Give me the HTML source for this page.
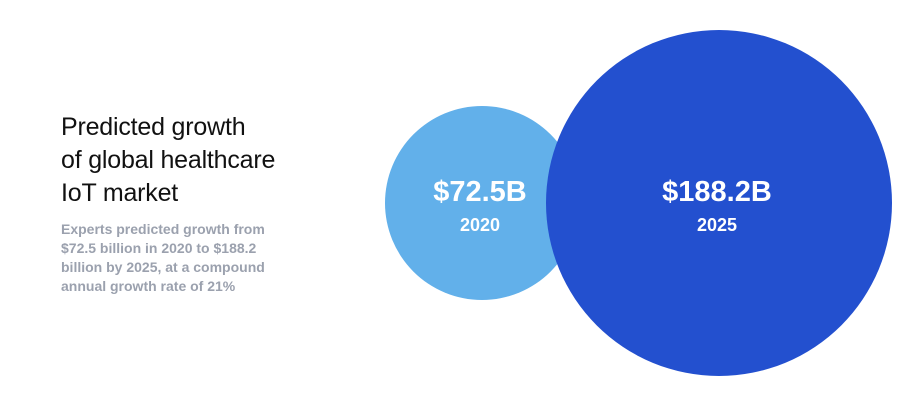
<!DOCTYPE html>
<html><head><meta charset="utf-8"><style>
body{margin:0;width:920px;height:406px;background:#fff;overflow:hidden;font-family:"Liberation Sans",sans-serif;position:relative}
#title{position:absolute;left:61px;top:111px;font-size:25px;line-height:33px;color:#111;margin:0;font-weight:normal;letter-spacing:-0.2px}
#sub{position:absolute;left:61px;top:220px;font-size:14px;line-height:19px;color:#9ba1ae;font-weight:bold;margin:0;width:240px}
svg{position:absolute;left:0;top:0}
</style></head><body>
<h1 id="title">Predicted growth<br>of global healthcare<br>IoT market</h1>
<p id="sub">Experts predicted growth from $72.5 billion in 2020 to $188.2 billion by 2025, at a compound annual growth rate of 21%</p>
<svg id="chart" width="920" height="406"></svg>
<script>
const years = ["2020", "2025"];
const values = [72.5, 188.2];
const labels = ["$72.5B", "$188.2B"];
const colors = ["#62b0ea", "#2350cf"];
const svg = document.getElementById('chart');
const NS = "http://www.w3.org/2000/svg";
const vMin = Math.min(...values), vMax = Math.max(...values);
function rScale(v){ return vMax===vMin ? 173 : 97 + (v - vMin) / (vMax - vMin) * (173 - 97); }
const cy = 203;
const r0 = rScale(values[0]);
let prevRight = 385;
values.forEach((v, i) => {
  const r = rScale(v);
  const cx = i === 0 ? 385 + r : prevRight - 33 + r;
  prevRight = cx + r;
  const g = document.createElementNS(NS, 'g');
  
  
  const c = document.createElementNS(NS, 'circle');
  
  
  c.setAttribute('cx', cx); c.setAttribute('cy', cy); c.setAttribute('r', r);
  c.setAttribute('fill', colors[i]);
  g.appendChild(c);
  const t1 = document.createElementNS(NS, 'text');
  
  
  t1.setAttribute('x', cx - 2); t1.setAttribute('y', cy - 2);
  t1.setAttribute('text-anchor', 'middle'); t1.setAttribute('fill', '#fff');
  t1.setAttribute('font-size', '29'); t1.setAttribute('font-weight', 'bold');
  t1.textContent = labels[i];
  g.appendChild(t1);
  const t2 = document.createElementNS(NS, 'text');
  
  
  t2.setAttribute('x', cx - 2); t2.setAttribute('y', cy + 28);
  t2.setAttribute('text-anchor', 'middle'); t2.setAttribute('fill', '#fff');
  t2.setAttribute('font-size', '18'); t2.setAttribute('font-weight', 'bold');
  t2.textContent = years[i];
  g.appendChild(t2);
  svg.appendChild(g);
});
</script>
</body></html>
